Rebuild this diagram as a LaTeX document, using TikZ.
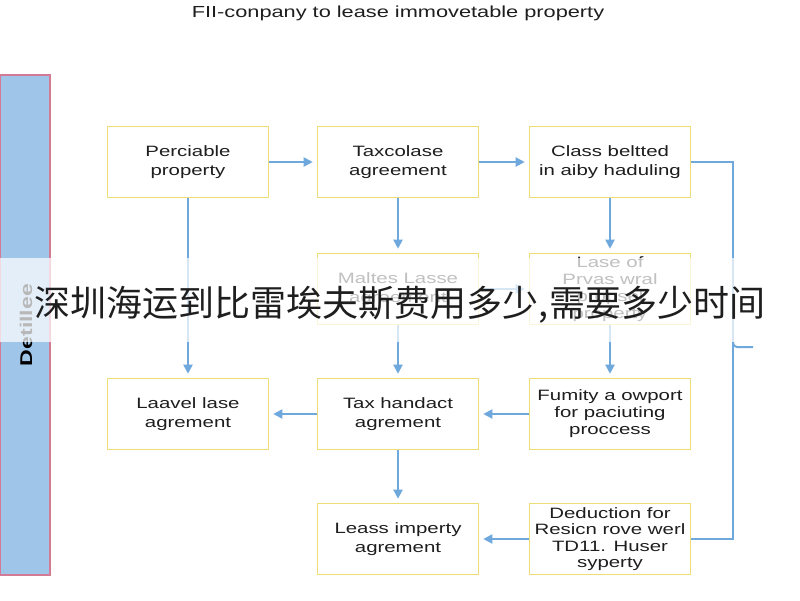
\documentclass[tikz,border=0pt]{standalone}
\usepackage{fontspec}
\setmainfont{Liberation Sans}[FakeStretch=1.36]
\newfontfamily\cjk{Noto Sans CJK SC}
\usetikzlibrary{arrows.meta}
\definecolor{boxyellow}{HTML}{EEDD77}
\definecolor{arrowblue}{HTML}{6FA8DC}
\definecolor{sidefill}{HTML}{9FC5E8}
\definecolor{sidepink}{HTML}{D27A96}
\definecolor{txt}{HTML}{1E1E1E}
\tikzset{
  procbox/.style={draw=boxyellow, line width=1.6pt, fill=white, minimum width=161pt, minimum height=71pt, inner sep=0pt, align=center, text=txt, font=\fontsize{15}{19}\selectfont},
  flow/.style={draw=arrowblue, line width=2pt, -{Triangle[length=9pt,width=9pt]}, shorten >=4pt},
  plain/.style={draw=arrowblue, line width=2pt}
}
\begin{document}
\begin{tikzpicture}[x=1pt,y=-1pt]
\useasboundingbox (0,0) rectangle (800,600);
\fill[white] (0,0) rectangle (800,600);
% title
\node[text=txt, font=\fontsize{16}{20}\selectfont, anchor=base, inner sep=0pt] (title) at (398,17) {FII-conpany to lease immovetable property};
% sidebar
\node[draw=sidepink, fill=sidefill, line width=1.4pt, minimum width=50pt, minimum height=500pt, inner sep=0pt] (side) at (25,325) {};
\node[rotate=90, font=\bfseries\fontsize{17}{20}\selectfont, text=black, inner sep=0pt] (sidelabel) at (26,325) {Detillee};
% boxes
\node[procbox] (a1) at (188,162) {Perciable\\property};
\node[procbox] (a2) at (398,162) {Taxcolase\\agreement};
\node[procbox] (a3) at (610,162) {Class beltted\\in aiby haduling};
\node[procbox] (b2) at (398,289) {Maltes Lasse\\agreement};
\node[procbox, font=\fontsize{15}{17}\selectfont] (b3) at (610,289) {Lase of\\Prvas wral\\propsel\\property};
\node[procbox] (c1) at (188,414) {Laavel lase\\agrement};
\node[procbox] (c2) at (398,414) {Tax handact\\agrement};
\node[procbox, font=\fontsize{15}{17}\selectfont] (c3) at (610,414) {Fumity a owport\\for paciuting\\proccess};
\node[procbox] (d2) at (398,539) {Leass imperty\\agrement};
\node[procbox, font=\fontsize{15}{16.3}\selectfont] (d3) at (610,539) {Deduction for\\Resicn rove werl\\TD11. Huser\\syperty};
% connectors
\draw[flow] (a1) -- (a2);
\draw[flow] (a2) -- (a3);
\draw[flow] (a1) -- (c1);
\draw[flow] (a2) -- (b2);
\draw[flow] (b2) -- (c2);
\draw[flow] (a3) -- (b3);
\draw[flow] (b3) -- (c3);
\draw[flow] (b2) -- (b3);
\draw[flow] (c3) -- (c2);
\draw[flow] (c2) -- (c1);
\draw[flow] (c2) -- (d2);
\draw[flow] (d3) -- (d2);
% right bracket
\coordinate (brtop) at (733,162);
\coordinate (brbot) at (733,539);
\coordinate (brtip) at (753,347);
\draw[plain] (a3.east) -- (brtop) -- (brbot) -- (d3.east);
\draw[plain, rounded corners=4pt] (733,338) -- (733,347) -- (brtip);
% overlay band
\fill[white, opacity=0.72] (0,258) rectangle (800,342);
\node[font=\cjk\fontsize{36}{40}\selectfont, text=txt, inner sep=0pt] (overlay) at (400,305) {深圳海运到比雷埃夫斯费用多少,需要多少时间};
\end{tikzpicture}
\end{document}
